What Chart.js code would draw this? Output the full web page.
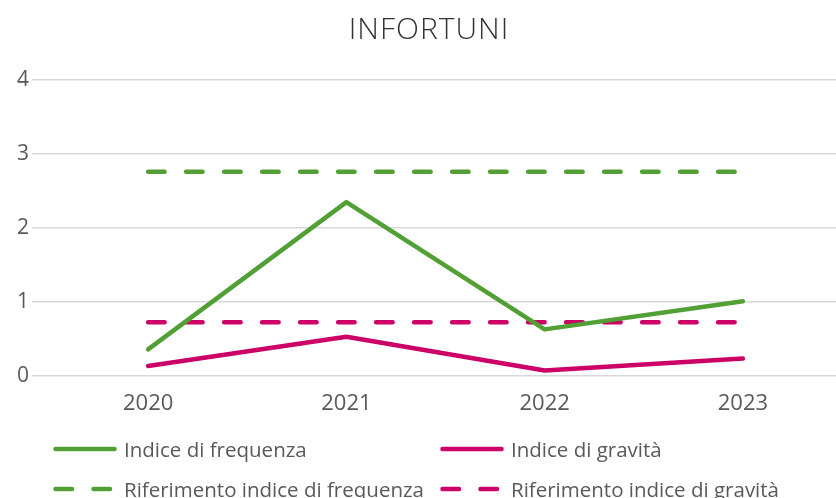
<!DOCTYPE html>
<html>
<head>
<meta charset="utf-8">
<script src="https://cdn.jsdelivr.net/npm/chart.js@4/dist/chart.umd.min.js"></script>
<style>
  html, body { margin: 0; padding: 0; background: #fff; overflow: hidden; width: 836px; height: 498px; }
  #wrap { position: absolute; left: 0; top: 0; width: 842px; height: 430px; }
  #title { position: absolute; left: 229px; top: 8px; width: 400px; text-align: center;
           font-family: "Open Sans", sans-serif; font-weight: 300; font-size: 30px; line-height: 40px;
           letter-spacing: 1px; color: #333; }
  #legend { position: absolute; left: 0; top: 0; width: 836px; height: 498px; pointer-events: none;
            font-family: "Open Sans", sans-serif; font-size: 20.5px; color: #595959; }
  .item { position: absolute; display: flex; align-items: center; height: 24px; white-space: nowrap; }
</style>
</head>
<body>
<div id="wrap"><canvas id="c"></canvas></div>
<div id="title">INFORTUNI</div>
<div id="legend"></div>
<script>
const categories = ['2020', '2021', '2022', '2023'];
const indiceFrequenza = [0.36, 2.35, 0.63, 1.01];
const indiceGravita = [0.135, 0.53, 0.075, 0.235];
const riferimentoFrequenza = [2.76, 2.76, 2.76, 2.76];
const riferimentoGravita = [0.725, 0.725, 0.725, 0.725];
const yTicks = [0, 1, 2, 3, 4];
const seriesNames = ['Indice di frequenza', 'Indice di gravità', 'Riferimento indice di frequenza', 'Riferimento indice di gravità'];

const GREEN = '#52A035';
const MAGENTA = '#CC0066';
const FONT = '"Open Sans", sans-serif';

const chart = new Chart(document.getElementById('c'), {
  type: 'line',
  data: {
    labels: categories,
    datasets: [
      { label: seriesNames[0], data: indiceFrequenza, borderColor: GREEN, borderWidth: 4.5, pointRadius: 0, tension: 0, borderCapStyle: 'round', borderJoinStyle: 'round' },
      { label: seriesNames[1], data: indiceGravita, borderColor: MAGENTA, borderWidth: 4.5, pointRadius: 0, tension: 0, borderCapStyle: 'round', borderJoinStyle: 'round' },
      { label: seriesNames[2], data: riferimentoFrequenza, borderColor: GREEN, borderWidth: 4.5, pointRadius: 0, tension: 0, borderDash: [16.5, 21.5], borderCapStyle: 'round' },
      { label: seriesNames[3], data: riferimentoGravita, borderColor: MAGENTA, borderWidth: 4.5, pointRadius: 0, tension: 0, borderDash: [16.5, 21.5], borderCapStyle: 'round' }
    ]
  },
  options: {
    responsive: true,
    maintainAspectRatio: false,
    animation: false,
    layout: { padding: { left: 0, right: 0, top: 80, bottom: 0 } },
    plugins: {
      legend: { display: false },
      tooltip: { enabled: false },
      title: { display: false }
    },
    scales: {
      x: {
        offset: true,
        grid: { display: false, drawTicks: false },
        border: { display: false },
        ticks: { color: '#595959', font: { family: FONT, size: 22 }, padding: 15 },
        afterFit: (s) => { s.height = 54; }
      },
      y: {
        min: 0, max: 4,
        afterBuildTicks: (s) => { s.ticks = yTicks.map(v => ({ value: v })); },
        grid: { color: '#d9d9d9', lineWidth: 1.5, tickColor: '#d9d9d9', tickLength: 17 },
        border: { display: false },
        ticks: { color: '#595959', font: { family: FONT, size: 21 }, padding: 3 },
        afterFit: (s) => { s.width = 49; }
      }
    }
  }
});

// HTML legend built from the chart's datasets
const legend = document.getElementById('legend');
const pos = [
  { left: 53, top: 437 }, { left: 440, top: 437 },
  { left: 53, top: 477 }, { left: 440, top: 477 }
];
chart.data.datasets.forEach((ds, i) => {
  const it = document.createElement('div');
  it.className = 'item';
  it.style.left = pos[i].left + 'px';
  it.style.top = pos[i].top + 'px';
  const sw = document.createElement('canvas');
  sw.width = 64; sw.height = 8;
  sw.style.width = '64px'; sw.style.height = '8px'; sw.style.marginRight = '7px';
  const g = sw.getContext('2d');
  g.strokeStyle = ds.borderColor; g.lineWidth = 4.5; g.lineCap = 'round';
  if (ds.borderDash) g.setLineDash(ds.borderDash);
  g.beginPath(); g.moveTo(2.5, 4); g.lineTo(61.5, 4); g.stroke();
  const t = document.createElement('span');
  t.textContent = ds.label;
  it.appendChild(sw); it.appendChild(t);
  legend.appendChild(it);
});
</script>
</body>
</html>
